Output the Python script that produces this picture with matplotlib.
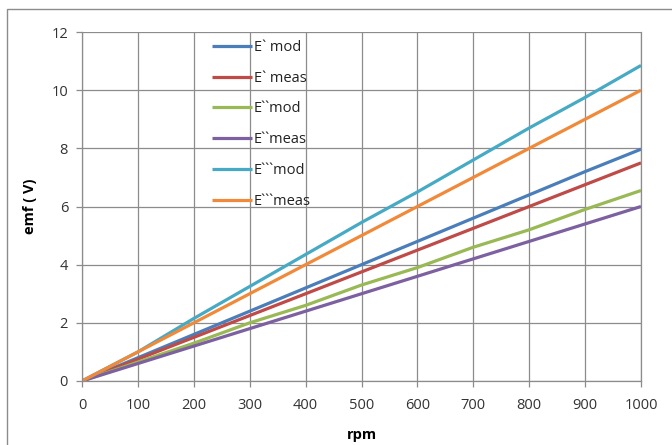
import matplotlib
matplotlib.use("Agg")
import matplotlib.pyplot as plt
from matplotlib.patches import Rectangle

rpm = [0, 100, 200, 300, 400, 500, 600, 700, 800, 900, 1000]
e1_mod = [0, 0.8, 1.6, 2.4, 3.2, 4.0, 4.8, 5.6, 6.4, 7.2, 7.97]
e1_meas = [0, 0.75, 1.5, 2.25, 3.0, 3.75, 4.5, 5.25, 6.0, 6.75, 7.5]
e2_mod = [0, 0.65, 1.3, 2.0, 2.6, 3.3, 3.9, 4.6, 5.2, 5.9, 6.55]
e2_meas = [0, 0.6, 1.2, 1.8, 2.4, 3.0, 3.6, 4.2, 4.8, 5.4, 6.0]
e3_mod = [0, 1.0, 2.15, 3.25, 4.35, 5.45, 6.5, 7.6, 8.7, 9.75, 10.85]
e3_meas = [0, 1.0, 2.0, 3.0, 4.0, 5.0, 6.0, 7.0, 8.0, 9.0, 10.0]

series = [
    ("E` mod", e1_mod, "#4A7EBB"),
    ("E` meas", e1_meas, "#BE4B48"),
    ("E``mod", e2_mod, "#98B954"),
    ("E``meas", e2_meas, "#7D60A0"),
    ("E```mod", e3_mod, "#46AAC5"),
    ("E```meas", e3_meas, "#F08A3A"),
]

plt.rcParams['font.family'] = ['Open Sans', 'DejaVu Sans']
fig = plt.figure(figsize=(6.72, 4.45), dpi=100)
ax = fig.add_axes([82/672, 1-381/445, (641-82)/672, (381-32)/445])

for name, vals, col in series:
    ax.plot(rpm, vals, color=col, lw=2.3, label=name, solid_capstyle='butt')

ax.set_xlim(0, 1000)
ax.set_ylim(0, 12)
ax.set_xticks(range(0, 1001, 100))
ax.set_yticks(range(0, 13, 2))
ax.grid(True, color='#8C8C8C', lw=0.9)
ax.set_axisbelow(True)
ax.spines['top'].set_visible(False)
for s in ['left', 'bottom', 'right']:
    ax.spines[s].set_color('#8C8C8C')
    ax.spines[s].set_linewidth(0.9)
ax.tick_params(axis='both', colors='#8C8C8C', labelcolor='#333333', labelsize=10.5, length=4, width=0.9)
ax.tick_params(axis='x', pad=8)
ax.tick_params(axis='y', pad=6)

ax.set_xlabel('rpm', fontsize=10.5, fontweight='bold', labelpad=11)
ax.set_ylabel('emf ( V)', fontsize=10.5, fontweight='bold', labelpad=10)

leg = ax.legend(loc='upper left', bbox_to_anchor=(0.22, 0.998), frameon=False,
                fontsize=10.5, labelspacing=1.08, handlelength=2.7, handletextpad=0.15,
                borderaxespad=0.1)
for t in leg.get_texts():
    t.set_color('#222222')

fig.patches.append(Rectangle((7/672, -0.1), 1.2, 1 - 9/445 + 0.1, transform=fig.transFigure,
                             fill=False, edgecolor='#8C8C8C', lw=1.0))

fig.savefig('out.png', dpi=100)
